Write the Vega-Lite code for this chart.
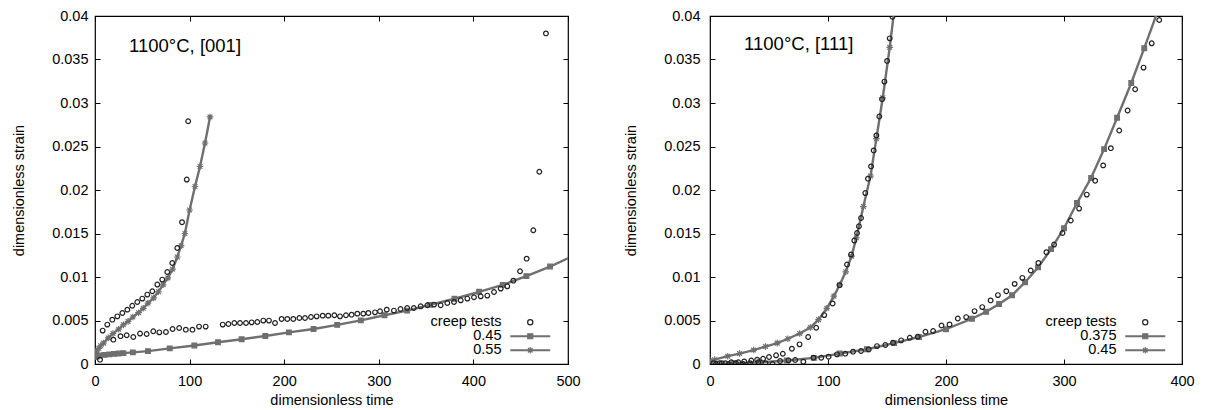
{
  "$schema": "https://vega.github.io/schema/vega-lite/v6.json",
  "padding": {"left": 11, "top": 7, "right": 0, "bottom": 0},
  "background": "white",
  "spacing": 42,
  "resolve": {
    "scale": {"shape": "independent", "stroke": "independent", "fill": "independent"},
    "legend": {"shape": "independent", "stroke": "independent", "fill": "independent"}
  },
  "config": {
    "font": "Liberation Sans",
    "view": {"stroke": "#000", "strokeWidth": 1.2},
    "axis": {"domain": false, "grid": false, "tickSize": -5, "tickColor": "#000", "tickWidth": 1, "labelFontSize": 14.5, "labelColor": "#000", "titleFontSize": 14.5, "titleFontWeight": "normal", "titleColor": "#000", "labelFont": "Liberation Sans", "titleFont": "Liberation Sans", "labelFlush": false},
    "axisX": {"labelPadding": 15, "titlePadding": 6},
    "axisY": {"labelPadding": 12, "titlePadding": 25},
    "legend": {"title": null, "orient": "none", "legendX": 428, "legendY": 299, "labelAlign": "right", "labelOffset": -36, "labelFontSize": 14.5, "labelFont": "Liberation Sans", "labelColor": "#000", "symbolSize": 100, "rowPadding": -2.5, "labelLimit": 300, "symbolOpacity": 1, "symbolStrokeWidth": 1.2}
  },
  "datasets": {
    "left": [
      {"series": "0.45", "t": 0, "s": 0.0008}, {"series": "0.45", "t": 2, "s": 0.00088}, {"series": "0.45", "t": 5, "s": 0.00098}, {"series": "0.45", "t": 10, "s": 0.00105}, {"series": "0.45", "t": 15, "s": 0.00111}, {"series": "0.45", "t": 20, "s": 0.00116}, {"series": "0.45", "t": 25, "s": 0.0012}, {"series": "0.45", "t": 30, "s": 0.00125}, {"series": "0.45", "t": 40, "s": 0.00134}, {"series": "0.45", "t": 56, "s": 0.00148}, {"series": "0.45", "t": 79, "s": 0.0018}, {"series": "0.45", "t": 105, "s": 0.00213}, {"series": "0.45", "t": 130, "s": 0.0025}, {"series": "0.45", "t": 155, "s": 0.00284}, {"series": "0.45", "t": 180, "s": 0.00322}, {"series": "0.45", "t": 205, "s": 0.00364}, {"series": "0.45", "t": 231, "s": 0.00402}, {"series": "0.45", "t": 256, "s": 0.0045}, {"series": "0.45", "t": 281, "s": 0.00502}, {"series": "0.45", "t": 306, "s": 0.0056}, {"series": "0.45", "t": 330, "s": 0.00614}, {"series": "0.45", "t": 354, "s": 0.0068}, {"series": "0.45", "t": 380, "s": 0.0075}, {"series": "0.45", "t": 406, "s": 0.0083}, {"series": "0.45", "t": 431, "s": 0.0091}, {"series": "0.45", "t": 456, "s": 0.0101}, {"series": "0.45", "t": 481, "s": 0.0112}, {"series": "0.45", "t": 506, "s": 0.01245},
      {"series": "0.55", "t": 0, "s": 0.0012}, {"series": "0.55", "t": 2, "s": 0.0015}, {"series": "0.55", "t": 4, "s": 0.0018}, {"series": "0.55", "t": 6, "s": 0.0021}, {"series": "0.55", "t": 9, "s": 0.0024}, {"series": "0.55", "t": 14, "s": 0.003}, {"series": "0.55", "t": 19, "s": 0.0035}, {"series": "0.55", "t": 25, "s": 0.004}, {"series": "0.55", "t": 30, "s": 0.0045}, {"series": "0.55", "t": 35, "s": 0.0049}, {"series": "0.55", "t": 40, "s": 0.0054}, {"series": "0.55", "t": 46, "s": 0.0059}, {"series": "0.55", "t": 51, "s": 0.0064}, {"series": "0.55", "t": 56, "s": 0.007}, {"series": "0.55", "t": 62, "s": 0.0076}, {"series": "0.55", "t": 67, "s": 0.0083}, {"series": "0.55", "t": 72, "s": 0.0091}, {"series": "0.55", "t": 77, "s": 0.0099}, {"series": "0.55", "t": 82, "s": 0.0109}, {"series": "0.55", "t": 87, "s": 0.0123}, {"series": "0.55", "t": 91, "s": 0.0136}, {"series": "0.55", "t": 95, "s": 0.015}, {"series": "0.55", "t": 100, "s": 0.0177}, {"series": "0.55", "t": 105.7, "s": 0.0204}, {"series": "0.55", "t": 111, "s": 0.0227}, {"series": "0.55", "t": 116.3, "s": 0.0254}, {"series": "0.55", "t": 121.6, "s": 0.0284},
      {"series": "creep tests", "t": 8.1, "s": 0.00384}, {"series": "creep tests", "t": 13, "s": 0.00453}, {"series": "creep tests", "t": 18.3, "s": 0.0051}, {"series": "creep tests", "t": 23.6, "s": 0.00548}, {"series": "creep tests", "t": 28.9, "s": 0.00586}, {"series": "creep tests", "t": 34.2, "s": 0.00625}, {"series": "creep tests", "t": 39.4, "s": 0.0067}, {"series": "creep tests", "t": 44.7, "s": 0.00713}, {"series": "creep tests", "t": 50, "s": 0.00752}, {"series": "creep tests", "t": 55.3, "s": 0.00798}, {"series": "creep tests", "t": 60.6, "s": 0.00836}, {"series": "creep tests", "t": 65.9, "s": 0.00913}, {"series": "creep tests", "t": 71.1, "s": 0.0097}, {"series": "creep tests", "t": 76.4, "s": 0.01057}, {"series": "creep tests", "t": 81.7, "s": 0.01161}, {"series": "creep tests", "t": 87, "s": 0.01333}, {"series": "creep tests", "t": 92, "s": 0.0163}, {"series": "creep tests", "t": 97, "s": 0.0212}, {"series": "creep tests", "t": 98.5, "s": 0.0279},
      {"series": "creep tests", "t": 5.3, "s": 0.0005}, {"series": "creep tests", "t": 19.4, "s": 0.0028}, {"series": "creep tests", "t": 27, "s": 0.0032}, {"series": "creep tests", "t": 33.5, "s": 0.0033}, {"series": "creep tests", "t": 40.5, "s": 0.0031}, {"series": "creep tests", "t": 47.6, "s": 0.0035}, {"series": "creep tests", "t": 54.6, "s": 0.00345}, {"series": "creep tests", "t": 61.6, "s": 0.00376}, {"series": "creep tests", "t": 68, "s": 0.00364}, {"series": "creep tests", "t": 75, "s": 0.00368}, {"series": "creep tests", "t": 82, "s": 0.00402}, {"series": "creep tests", "t": 89, "s": 0.00414}, {"series": "creep tests", "t": 96, "s": 0.00395}, {"series": "creep tests", "t": 103, "s": 0.00395}, {"series": "creep tests", "t": 110, "s": 0.0043}, {"series": "creep tests", "t": 117, "s": 0.0043},
      {"series": "creep tests", "t": 135, "s": 0.00453}, {"series": "creep tests", "t": 141, "s": 0.0046}, {"series": "creep tests", "t": 147.3, "s": 0.00471}, {"series": "creep tests", "t": 153.3, "s": 0.00471}, {"series": "creep tests", "t": 159.6, "s": 0.00471}, {"series": "creep tests", "t": 165.6, "s": 0.00479}, {"series": "creep tests", "t": 171.6, "s": 0.00483}, {"series": "creep tests", "t": 177.9, "s": 0.00499}, {"series": "creep tests", "t": 183.9, "s": 0.00499}, {"series": "creep tests", "t": 190.3, "s": 0.00471}, {"series": "creep tests", "t": 197.3, "s": 0.00518}, {"series": "creep tests", "t": 203.3, "s": 0.00518}, {"series": "creep tests", "t": 209.6, "s": 0.00518}, {"series": "creep tests", "t": 216, "s": 0.00529}, {"series": "creep tests", "t": 222, "s": 0.00529}, {"series": "creep tests", "t": 228.3, "s": 0.0054}, {"series": "creep tests", "t": 234.3, "s": 0.00548}, {"series": "creep tests", "t": 240.7, "s": 0.00556}, {"series": "creep tests", "t": 246.6, "s": 0.00556}, {"series": "creep tests", "t": 253, "s": 0.0056}, {"series": "creep tests", "t": 259, "s": 0.00548}, {"series": "creep tests", "t": 265.3, "s": 0.0056}, {"series": "creep tests", "t": 271.3, "s": 0.00567}, {"series": "creep tests", "t": 277.3, "s": 0.00579}, {"series": "creep tests", "t": 283.6, "s": 0.00579}, {"series": "creep tests", "t": 289, "s": 0.00587}, {"series": "creep tests", "t": 296, "s": 0.00594}, {"series": "creep tests", "t": 301.3, "s": 0.00606}, {"series": "creep tests", "t": 308.4, "s": 0.00625},
      {"series": "creep tests", "t": 316, "s": 0.00614}, {"series": "creep tests", "t": 323, "s": 0.00632}, {"series": "creep tests", "t": 330, "s": 0.00644}, {"series": "creep tests", "t": 337, "s": 0.00644}, {"series": "creep tests", "t": 344.3, "s": 0.00663}, {"series": "creep tests", "t": 351.3, "s": 0.00675}, {"series": "creep tests", "t": 358.4, "s": 0.00683}, {"series": "creep tests", "t": 365.4, "s": 0.00675}, {"series": "creep tests", "t": 372.4, "s": 0.00701}, {"series": "creep tests", "t": 379.5, "s": 0.00713}, {"series": "creep tests", "t": 386.6, "s": 0.00732}, {"series": "creep tests", "t": 393.6, "s": 0.00752}, {"series": "creep tests", "t": 400.6, "s": 0.00767}, {"series": "creep tests", "t": 407.7, "s": 0.00778}, {"series": "creep tests", "t": 414.7, "s": 0.00786}, {"series": "creep tests", "t": 421.8, "s": 0.00828}, {"series": "creep tests", "t": 428.9, "s": 0.00867}, {"series": "creep tests", "t": 435.8, "s": 0.00893}, {"series": "creep tests", "t": 442.2, "s": 0.00958}, {"series": "creep tests", "t": 449.3, "s": 0.01066}, {"series": "creep tests", "t": 456.3, "s": 0.01211}, {"series": "creep tests", "t": 463.3, "s": 0.01537}, {"series": "creep tests", "t": 469.7, "s": 0.0221}, {"series": "creep tests", "t": 476.7, "s": 0.038}
    ],
    "right": [
      {"series": "0.375", "t": 0, "s": 0.0}, {"series": "0.375", "t": 20, "s": 0.0001}, {"series": "0.375", "t": 42, "s": 0.00018}, {"series": "0.375", "t": 65, "s": 0.0004}, {"series": "0.375", "t": 88, "s": 0.0007}, {"series": "0.375", "t": 110, "s": 0.0012}, {"series": "0.375", "t": 133, "s": 0.0017}, {"series": "0.375", "t": 156, "s": 0.0024}, {"series": "0.375", "t": 177, "s": 0.0031}, {"series": "0.375", "t": 200, "s": 0.004}, {"series": "0.375", "t": 222, "s": 0.0052}, {"series": "0.375", "t": 234, "s": 0.006}, {"series": "0.375", "t": 245, "s": 0.0069}, {"series": "0.375", "t": 256, "s": 0.0079}, {"series": "0.375", "t": 267, "s": 0.0094}, {"series": "0.375", "t": 278, "s": 0.0111}, {"series": "0.375", "t": 289, "s": 0.0132}, {"series": "0.375", "t": 300, "s": 0.0156}, {"series": "0.375", "t": 311, "s": 0.0185}, {"series": "0.375", "t": 323, "s": 0.0214}, {"series": "0.375", "t": 334, "s": 0.0247}, {"series": "0.375", "t": 345, "s": 0.0283}, {"series": "0.375", "t": 357, "s": 0.0323}, {"series": "0.375", "t": 368, "s": 0.0363}, {"series": "0.375", "t": 379, "s": 0.0404},
      {"series": "0.45", "t": 0, "s": 0.0004}, {"series": "0.45", "t": 4, "s": 0.0005}, {"series": "0.45", "t": 15, "s": 0.0009}, {"series": "0.45", "t": 25, "s": 0.0012}, {"series": "0.45", "t": 37, "s": 0.0016}, {"series": "0.45", "t": 47, "s": 0.002}, {"series": "0.45", "t": 57, "s": 0.0024}, {"series": "0.45", "t": 66, "s": 0.0029}, {"series": "0.45", "t": 76, "s": 0.0035}, {"series": "0.45", "t": 85, "s": 0.0042}, {"series": "0.45", "t": 92, "s": 0.0051}, {"series": "0.45", "t": 99, "s": 0.0064}, {"series": "0.45", "t": 105, "s": 0.0078}, {"series": "0.45", "t": 110, "s": 0.0091}, {"series": "0.45", "t": 115, "s": 0.0106}, {"series": "0.45", "t": 120, "s": 0.0124}, {"series": "0.45", "t": 124, "s": 0.0145}, {"series": "0.45", "t": 130, "s": 0.0181}, {"series": "0.45", "t": 136, "s": 0.0216}, {"series": "0.45", "t": 141, "s": 0.0259}, {"series": "0.45", "t": 146.4, "s": 0.0306}, {"series": "0.45", "t": 152.3, "s": 0.0364}, {"series": "0.45", "t": 156, "s": 0.0405},
      {"series": "creep tests", "t": 3, "s": 0.0001}, {"series": "creep tests", "t": 8, "s": 0.0001}, {"series": "creep tests", "t": 13, "s": 0.0001}, {"series": "creep tests", "t": 18, "s": 0.0002}, {"series": "creep tests", "t": 24, "s": 0.0002}, {"series": "creep tests", "t": 29, "s": 0.0003}, {"series": "creep tests", "t": 35, "s": 0.0004}, {"series": "creep tests", "t": 40, "s": 0.0005}, {"series": "creep tests", "t": 45, "s": 0.0006}, {"series": "creep tests", "t": 50, "s": 0.0008}, {"series": "creep tests", "t": 56, "s": 0.001}, {"series": "creep tests", "t": 61.7, "s": 0.00118}, {"series": "creep tests", "t": 69.4, "s": 0.00176}, {"series": "creep tests", "t": 75.9, "s": 0.00226}, {"series": "creep tests", "t": 83.2, "s": 0.0031}, {"series": "creep tests", "t": 90, "s": 0.00417}, {"series": "creep tests", "t": 96.8, "s": 0.00562}, {"series": "creep tests", "t": 103.9, "s": 0.00696}, {"series": "creep tests", "t": 109.8, "s": 0.00906}, {"series": "creep tests", "t": 116.1, "s": 0.01144}, {"series": "creep tests", "t": 119.5, "s": 0.01258}, {"series": "creep tests", "t": 122.3, "s": 0.01419}, {"series": "creep tests", "t": 124.6, "s": 0.01506}, {"series": "creep tests", "t": 126.2, "s": 0.01583}, {"series": "creep tests", "t": 128, "s": 0.01678}, {"series": "creep tests", "t": 131.6, "s": 0.01965}, {"series": "creep tests", "t": 133.9, "s": 0.0213}, {"series": "creep tests", "t": 136.5, "s": 0.02271}, {"series": "creep tests", "t": 138.7, "s": 0.02455}, {"series": "creep tests", "t": 141, "s": 0.02627}, {"series": "creep tests", "t": 143.5, "s": 0.02845}, {"series": "creep tests", "t": 145.8, "s": 0.03044}, {"series": "creep tests", "t": 147.8, "s": 0.03246}, {"series": "creep tests", "t": 150.1, "s": 0.03484}, {"series": "creep tests", "t": 152.3, "s": 0.03743}, {"series": "creep tests", "t": 154.6, "s": 0.03992},
      {"series": "creep tests", "t": 5, "s": 0.0}, {"series": "creep tests", "t": 10, "s": 0.0001}, {"series": "creep tests", "t": 16, "s": 0.0}, {"series": "creep tests", "t": 22, "s": 0.0001}, {"series": "creep tests", "t": 28, "s": 0.0}, {"series": "creep tests", "t": 34, "s": 0.0001}, {"series": "creep tests", "t": 41, "s": 0.0002}, {"series": "creep tests", "t": 47, "s": 0.0001}, {"series": "creep tests", "t": 53, "s": 0.0}, {"series": "creep tests", "t": 59.4, "s": 0.00034}, {"series": "creep tests", "t": 66.5, "s": 0.00042}, {"series": "creep tests", "t": 72.2, "s": 0.00046}, {"series": "creep tests", "t": 79.1, "s": 0.00027}, {"series": "creep tests", "t": 87.7, "s": 0.00073}, {"series": "creep tests", "t": 94.3, "s": 0.00072}, {"series": "creep tests", "t": 100.5, "s": 0.00084}, {"series": "creep tests", "t": 107.6, "s": 0.00111}, {"series": "creep tests", "t": 114.6, "s": 0.00119}, {"series": "creep tests", "t": 121.2, "s": 0.00142}, {"series": "creep tests", "t": 128, "s": 0.00149}, {"series": "creep tests", "t": 134.5, "s": 0.00168}, {"series": "creep tests", "t": 141.5, "s": 0.00206}, {"series": "creep tests", "t": 148.6, "s": 0.00218}, {"series": "creep tests", "t": 155.1, "s": 0.00245}, {"series": "creep tests", "t": 162, "s": 0.00272}, {"series": "creep tests", "t": 169.3, "s": 0.00302}, {"series": "creep tests", "t": 176, "s": 0.00313}, {"series": "creep tests", "t": 182.6, "s": 0.00371}, {"series": "creep tests", "t": 189.1, "s": 0.00379}, {"series": "creep tests", "t": 196.2, "s": 0.00443}, {"series": "creep tests", "t": 203, "s": 0.00455}, {"series": "creep tests", "t": 210, "s": 0.00523}, {"series": "creep tests", "t": 217.1, "s": 0.00539}, {"series": "creep tests", "t": 224.2, "s": 0.00608}, {"series": "creep tests", "t": 230.7, "s": 0.00654}, {"series": "creep tests", "t": 237.8, "s": 0.00731}, {"series": "creep tests", "t": 244, "s": 0.00792}, {"series": "creep tests", "t": 251.1, "s": 0.00837}, {"series": "creep tests", "t": 258.2, "s": 0.00921}, {"series": "creep tests", "t": 264.7, "s": 0.0099}, {"series": "creep tests", "t": 271.8, "s": 0.01075}, {"series": "creep tests", "t": 278.3, "s": 0.01162}, {"series": "creep tests", "t": 285.1, "s": 0.01285}, {"series": "creep tests", "t": 291.6, "s": 0.01373}, {"series": "creep tests", "t": 298.7, "s": 0.01506}, {"series": "creep tests", "t": 305.7, "s": 0.01649}, {"series": "creep tests", "t": 312.8, "s": 0.01786}, {"series": "creep tests", "t": 319.3, "s": 0.01947}, {"series": "creep tests", "t": 326.4, "s": 0.02107}, {"series": "creep tests", "t": 333.2, "s": 0.02283}, {"series": "creep tests", "t": 339.7, "s": 0.02481}, {"series": "creep tests", "t": 346.8, "s": 0.02684}, {"series": "creep tests", "t": 353.9, "s": 0.02914}, {"series": "creep tests", "t": 360.3, "s": 0.03158}, {"series": "creep tests", "t": 367.4, "s": 0.03407}, {"series": "creep tests", "t": 374.3, "s": 0.03686}, {"series": "creep tests", "t": 380.7, "s": 0.03954}
    ]
  },
  "hconcat": [
    {
      "width": 473,
      "height": 348,
      "resolve": {
        "axis": {"x": "independent", "y": "independent"},
        "scale": {"shape": "independent", "stroke": "independent", "fill": "independent"},
        "legend": {"shape": "independent", "stroke": "independent", "fill": "independent"}
      },
      "layer": [
        {
          "data": {"name": "left"},
          "transform": [{"filter": "datum.series !== 'creep tests'"}],
          "mark": {"type": "line", "clip": true, "color": "#6f6f6f", "strokeWidth": 2.4},
          "encoding": {
            "x": {"field": "t", "type": "quantitative", "scale": {"domain": [0, 500], "nice": false, "zero": false}, "axis": {"orient": "bottom", "values": [0, 100, 200, 300, 400, 500], "title": "dimensionless time"}},
            "y": {"field": "s", "type": "quantitative", "scale": {"domain": [0, 0.04], "nice": false}, "axis": {"orient": "left", "values": [0, 0.005, 0.01, 0.015, 0.02, 0.025, 0.03, 0.035, 0.04], "format": "~g", "title": "dimensionless strain"}},
            "detail": {"field": "series", "type": "nominal"}
          }
        },
        {
          "data": {"name": "left"},
          "mark": {"type": "point", "clip": true, "size": 22, "strokeWidth": 1.2, "opacity": 1},
          "encoding": {
            "x": {"field": "t", "type": "quantitative", "axis": {"orient": "top", "values": [0, 100, 200, 300, 400, 500], "labels": false, "title": null}},
            "y": {"field": "s", "type": "quantitative", "axis": {"orient": "right", "values": [0, 0.005, 0.01, 0.015, 0.02, 0.025, 0.03, 0.035, 0.04], "labels": false, "title": null}},
            "shape": {"field": "series", "type": "nominal", "scale": {"domain": ["creep tests", "0.45", "0.55"], "range": ["circle", "square", "M-1.4,0H1.4M0,-1.4V1.4M-1,-1L1,1M-1,1L1,-1"]}, "legend": null},
            "stroke": {"field": "series", "type": "nominal", "scale": {"domain": ["creep tests", "0.45", "0.55"], "range": ["#222222", "#6f6f6f", "#6f6f6f"]}, "legend": null},
            "fill": {"field": "series", "type": "nominal", "scale": {"domain": ["creep tests", "0.45", "0.55"], "range": ["transparent", "#6f6f6f", "#6f6f6f"]}, "legend": null}
          }
        },
        {
          "data": {"name": "left"},
          "transform": [{"filter": "false"}],
          "mark": {"type": "point", "opacity": 1},
          "encoding": {
            "x": {"field": "t", "type": "quantitative", "axis": null},
            "y": {"field": "s", "type": "quantitative", "axis": null},
            "shape": {"field": "series", "type": "nominal", "scale": {"domain": ["creep tests", "0.45", "0.55"], "range": ["M-0.52,0A0.52,0.52 0 1,0 0.52,0A0.52,0.52 0 1,0 -0.52,0Z", "M-4,-0.1H4M-4,0.1H4M-0.5,-0.5H0.5V0.5H-0.5Z", "M-4,-0.1H4M-4,0.1H4M-0.65,0H0.65M0,-0.65V0.65M-0.45,-0.45L0.45,0.45M-0.45,0.45L0.45,-0.45"]}},
            "stroke": {"field": "series", "type": "nominal", "scale": {"domain": ["creep tests", "0.45", "0.55"], "range": ["#222222", "#6f6f6f", "#6f6f6f"]}},
            "fill": {"field": "series", "type": "nominal", "scale": {"domain": ["creep tests", "0.45", "0.55"], "range": ["transparent", "#6f6f6f", "#6f6f6f"]}}
          }
        },
        {
          "data": {"values": [{"label": "1100°C, [001]"}]},
          "mark": {"type": "text", "align": "left", "baseline": "middle", "fontSize": 18.5, "font": "Liberation Sans", "color": "#000"},
          "encoding": {
            "x": {"datum": 36, "type": "quantitative", "axis": null},
            "y": {"datum": 0.0366, "type": "quantitative", "axis": null},
            "text": {"field": "label", "type": "nominal"}
          }
        }
      ]
    },
    {
      "width": 472,
      "height": 348,
      "resolve": {
        "axis": {"x": "independent", "y": "independent"},
        "scale": {"shape": "independent", "stroke": "independent", "fill": "independent"},
        "legend": {"shape": "independent", "stroke": "independent", "fill": "independent"}
      },
      "layer": [
        {
          "data": {"name": "right"},
          "transform": [{"filter": "datum.series !== 'creep tests'"}],
          "mark": {"type": "line", "clip": true, "color": "#6f6f6f", "strokeWidth": 2.4},
          "encoding": {
            "x": {"field": "t", "type": "quantitative", "scale": {"domain": [0, 400], "nice": false, "zero": false}, "axis": {"orient": "bottom", "values": [0, 100, 200, 300, 400], "title": "dimensionless time"}},
            "y": {"field": "s", "type": "quantitative", "scale": {"domain": [0, 0.04], "nice": false}, "axis": {"orient": "left", "values": [0, 0.005, 0.01, 0.015, 0.02, 0.025, 0.03, 0.035, 0.04], "format": "~g", "title": "dimensionless strain", "labelPadding": 15}},
            "detail": {"field": "series", "type": "nominal"}
          }
        },
        {
          "data": {"name": "right"},
          "mark": {"type": "point", "clip": true, "size": 22, "strokeWidth": 1.2, "opacity": 1},
          "encoding": {
            "x": {"field": "t", "type": "quantitative", "axis": {"orient": "top", "values": [0, 100, 200, 300, 400], "labels": false, "title": null}},
            "y": {"field": "s", "type": "quantitative", "axis": {"orient": "right", "values": [0, 0.005, 0.01, 0.015, 0.02, 0.025, 0.03, 0.035, 0.04], "labels": false, "title": null}},
            "shape": {"field": "series", "type": "nominal", "scale": {"domain": ["creep tests", "0.375", "0.45"], "range": ["circle", "square", "M-1.4,0H1.4M0,-1.4V1.4M-1,-1L1,1M-1,1L1,-1"]}, "legend": null},
            "stroke": {"field": "series", "type": "nominal", "scale": {"domain": ["creep tests", "0.375", "0.45"], "range": ["#222222", "#6f6f6f", "#6f6f6f"]}, "legend": null},
            "fill": {"field": "series", "type": "nominal", "scale": {"domain": ["creep tests", "0.375", "0.45"], "range": ["transparent", "#6f6f6f", "#6f6f6f"]}, "legend": null}
          }
        },
        {
          "data": {"name": "right"},
          "transform": [{"filter": "false"}],
          "mark": {"type": "point", "opacity": 1},
          "encoding": {
            "x": {"field": "t", "type": "quantitative", "axis": null},
            "y": {"field": "s", "type": "quantitative", "axis": null},
            "shape": {"field": "series", "type": "nominal", "scale": {"domain": ["creep tests", "0.375", "0.45"], "range": ["M-0.52,0A0.52,0.52 0 1,0 0.52,0A0.52,0.52 0 1,0 -0.52,0Z", "M-4,-0.1H4M-4,0.1H4M-0.5,-0.5H0.5V0.5H-0.5Z", "M-4,-0.1H4M-4,0.1H4M-0.65,0H0.65M0,-0.65V0.65M-0.45,-0.45L0.45,0.45M-0.45,0.45L0.45,-0.45"]}},
            "stroke": {"field": "series", "type": "nominal", "scale": {"domain": ["creep tests", "0.375", "0.45"], "range": ["#222222", "#6f6f6f", "#6f6f6f"]}},
            "fill": {"field": "series", "type": "nominal", "scale": {"domain": ["creep tests", "0.375", "0.45"], "range": ["transparent", "#6f6f6f", "#6f6f6f"]}}
          }
        },
        {
          "data": {"values": [{"label": "1100°C, [111]"}]},
          "mark": {"type": "text", "align": "left", "baseline": "middle", "fontSize": 18.5, "font": "Liberation Sans", "color": "#000"},
          "encoding": {
            "x": {"datum": 28.9, "type": "quantitative", "axis": null},
            "y": {"datum": 0.03674, "type": "quantitative", "axis": null},
            "text": {"field": "label", "type": "nominal"}
          }
        }
      ]
    }
  ]
}
